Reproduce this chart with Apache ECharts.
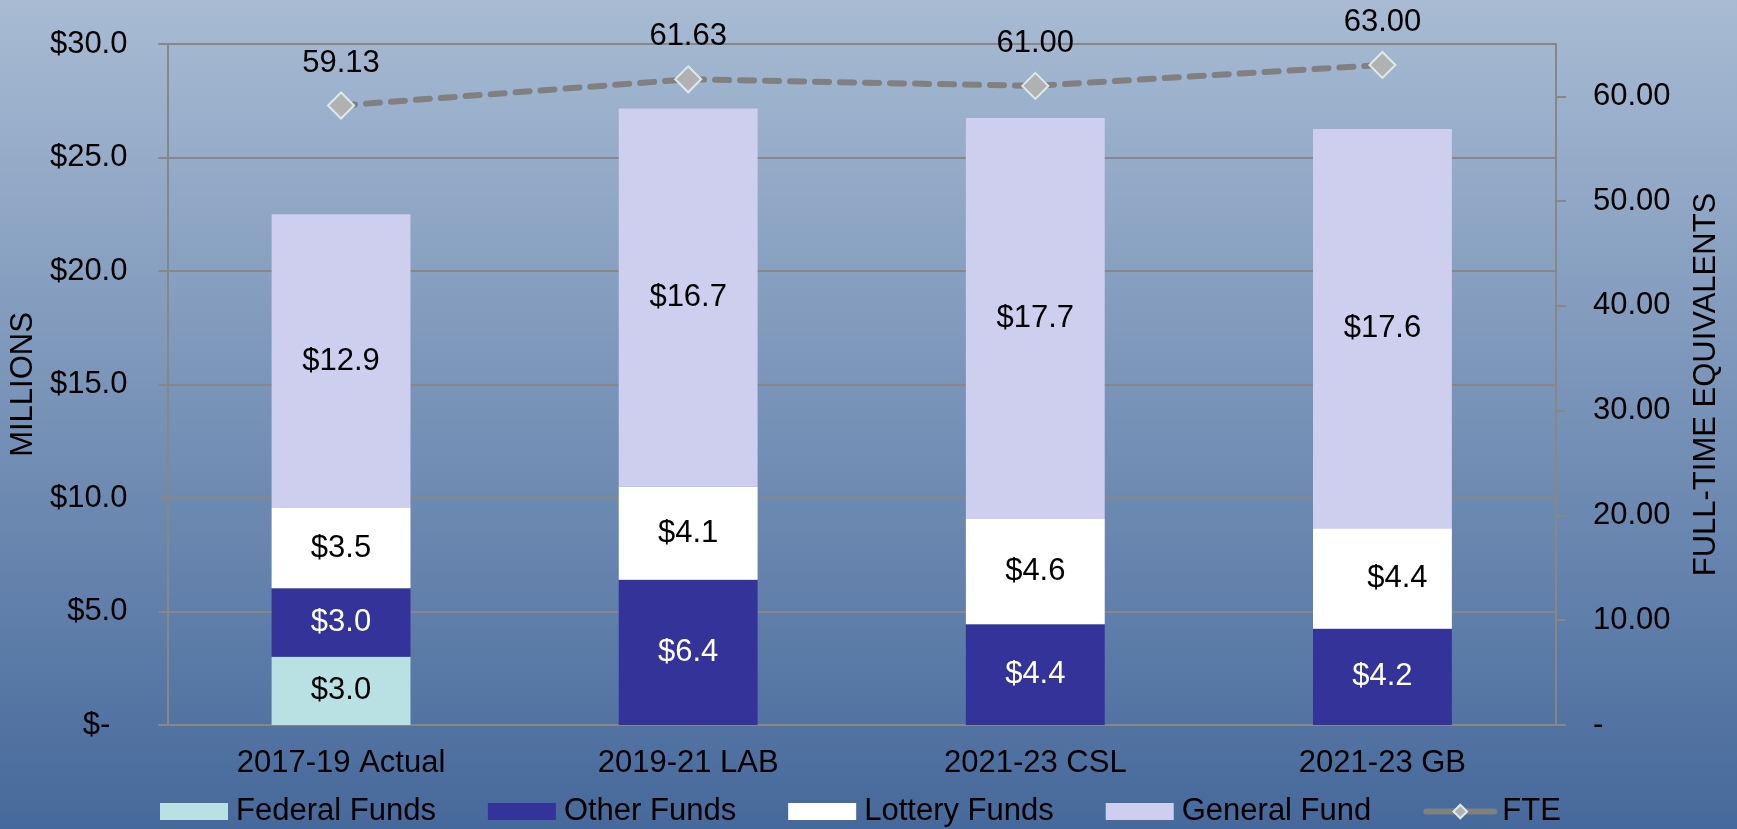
<!DOCTYPE html>
<html>
<head>
<meta charset="utf-8">
<script src="https://cdn.jsdelivr.net/npm/echarts@6/dist/echarts.min.js"></script>
<style>
  html, body { margin: 0; padding: 0; }
  #chart { width: 1737px; height: 829px; }
</style>
</head>
<body>
<div id="chart"></div>
<script>
// values in $ millions
const categories = ['2017-19 Actual', '2019-21 LAB', '2021-23 CSL', '2021-23 GB'];
const federalFunds = [3.01, 0, 0, 0];
const otherFunds = [3.01, 6.40, 4.44, 4.24];
const lotteryFunds = [3.54, 4.10, 4.64, 4.43];
const generalFund = [12.94, 16.66, 17.66, 17.58];
const fte = [59.13, 61.63, 61.00, 63.00];
const leftTicks = [0, 5, 10, 15, 20, 25, 30];
const rightTicks = [0, 10, 20, 30, 40, 50, 60];

const FONT = '"Liberation Sans", Arial, sans-serif';
const GRID_GRAY = '#878787';

const chart = echarts.init(document.getElementById('chart'));

function money(v) { return v ? '$' + v.toFixed(1) : ''; }

function barSeries(name, data, color, labelColor) {
  return {
    name, type: 'bar', stack: 'funds', data, barWidth: '40%',
    itemStyle: { color },
    label: {
      show: true, position: 'inside', color: labelColor,
      fontFamily: FONT, fontSize: 31,
      formatter: p => money(p.value)
    }
  };
}

const lottery = barSeries('Lottery Funds', lotteryFunds, '#ffffff', '#000');
// the GB lottery label sits a bit right of centre in the original
lottery.data = lotteryFunds.map((v, i) => i === 3 ? { value: v, label: { offset: [15, 0] } } : v);

chart.setOption({
  backgroundColor: {
    type: 'linear', x: 0, y: 0, x2: 0, y2: 1,
    colorStops: [{ offset: 0, color: '#a8bbd3' }, { offset: 1, color: '#46699b' }]
  },
  textStyle: { fontFamily: FONT },
  animation: false,
  grid: { left: 161, right: 181, top: 44, bottom: 104 },
  legend: {
    left: 155, top: 791,
    itemWidth: 68, itemHeight: 17, itemGap: 52,
    textStyle: { fontFamily: FONT, fontSize: 31, color: '#000', padding: [0, 0, 0, 3] },
    data: [
      { name: 'Federal Funds', icon: 'rect' },
      { name: 'Other Funds', icon: 'rect' },
      { name: 'Lottery Funds', icon: 'rect' },
      { name: 'General Fund', icon: 'rect' },
      { name: 'FTE', lineStyle: { width: 6, type: 'solid' } }
    ]
  },
  xAxis: {
    type: 'category', data: categories,
    axisLine: { lineStyle: { color: GRID_GRAY, width: 2 } },
    axisTick: { show: false },
    axisLabel: { color: '#000', fontSize: 31, fontFamily: FONT, margin: 23 }
  },
  yAxis: [
    {
      type: 'value', min: 0, max: 30, interval: 5,
      name: 'MILLIONS', nameLocation: 'middle', nameRotate: 90, nameGap: 121,
      nameTextStyle: { color: '#000', fontSize: 31, fontFamily: FONT },
      axisLine: { show: true, lineStyle: { color: GRID_GRAY, width: 2 } },
      axisTick: { show: true, length: 9, lineStyle: { color: GRID_GRAY, width: 2 }, customValues: leftTicks },
      splitLine: { show: true, lineStyle: { color: GRID_GRAY, width: 2 } },
      axisLabel: {
        color: '#000', fontSize: 31, fontFamily: FONT, margin: 40, customValues: leftTicks,
        formatter: v => v === 0 ? '$-  ' : '$' + v.toFixed(1)
      }
    },
    {
      type: 'value', min: 0, max: 65, interval: 10, position: 'right',
      name: 'FULL-TIME EQUIVALENTS', nameLocation: 'middle', nameRotate: 90, nameGap: 135,
      nameTextStyle: { color: '#000', fontSize: 31, fontFamily: FONT },
      axisLine: { show: true, lineStyle: { color: GRID_GRAY, width: 2 } },
      axisTick: { show: true, length: 10, lineStyle: { color: GRID_GRAY, width: 2 }, customValues: rightTicks },
      splitLine: { show: false },
      axisLabel: {
        color: '#000', fontSize: 31, fontFamily: FONT, margin: 37, customValues: rightTicks,
        formatter: v => v === 0 ? '-' : v.toFixed(2)
      }
    }
  ],
  series: [
    barSeries('Federal Funds', federalFunds, '#b9e0e3', '#000'),
    barSeries('Other Funds', otherFunds, '#333399', '#fff'),
    lottery,
    barSeries('General Fund', generalFund, '#cecfee', '#000'),
    {
      name: 'FTE', type: 'line', yAxisIndex: 1, data: fte, z: 5,
      symbol: 'diamond', symbolSize: 26,
      lineStyle: { color: '#808080', width: 6, type: [14, 11], cap: 'round' },
      itemStyle: { color: '#b1b1b1', borderColor: '#dcebea', borderWidth: 2 },
      label: {
        show: true, position: 'top', distance: 13, color: '#000',
        fontFamily: FONT, fontSize: 31,
        formatter: p => p.value.toFixed(2)
      }
    }
  ]
});
</script>
</body>
</html>
